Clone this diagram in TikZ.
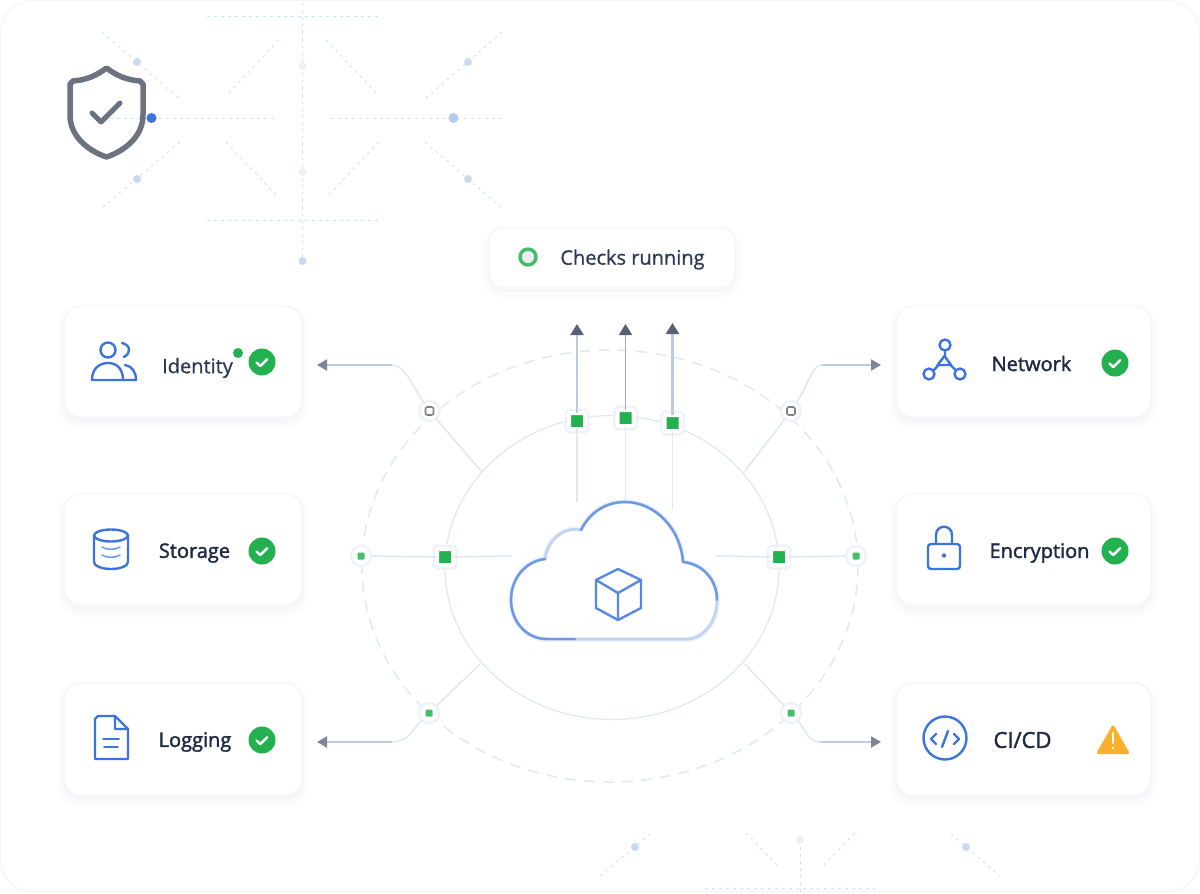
\documentclass[tikz,border=0pt]{standalone}
\usepackage{fontspec}
\setmainfont[FakeBold=0.8]{Open Sans}
\newfontfamily\cardfont[FakeBold=1.8]{Open Sans}
\usetikzlibrary{arrows.meta}
\definecolor{iconblue}{HTML}{3B74DC}
\definecolor{cloudblue}{HTML}{6C98E4}
\definecolor{cloudpale}{HTML}{C3D4F2}
\definecolor{okgreen}{HTML}{23B04E}
\definecolor{inkblue}{HTML}{1F2A44}
\definecolor{inkpale}{HTML}{2E3954}
\definecolor{slate}{HTML}{6B7280}
\definecolor{tipgray}{HTML}{5A6072}
\definecolor{tipsoft}{HTML}{7D8598}
\definecolor{dashblue}{HTML}{CEDEF4}
\definecolor{dotblue}{HTML}{CBD8EE}
\definecolor{dotpale}{HTML}{EEF1F4}
\definecolor{ringblue}{HTML}{E2E8F2}
\definecolor{wireblue}{HTML}{E0E7F2}
\definecolor{armblue}{HTML}{BCCAE4}
\definecolor{haloblue}{HTML}{EFF2F8}
\definecolor{cardedge}{HTML}{F3F5F8}
\definecolor{warnorange}{HTML}{FBB02D}

\begin{document}
\begin{tikzpicture}[x=1pt,y=-1pt,
every node/.style={inner sep=0pt, outer sep=0pt},
card/.style={rectangle, rounded corners=17, fill=white, draw=cardedge, line width=1,
   preaction={draw=slate, line width=14, opacity=0.006, transform canvas={yshift=-5pt}},
   preaction={draw=slate, line width=9, opacity=0.010, transform canvas={yshift=-5pt}},
   preaction={draw=slate, line width=5, opacity=0.012, transform canvas={yshift=-4pt}},
   preaction={draw=slate, line width=2, opacity=0.016, transform canvas={yshift=-3pt}}},
lbl/.style={font=\cardfont\fontsize{20}{24}\selectfont, text=inkblue},
lblthin/.style={font=\fontsize{20}{24}\selectfont, text=inkpale},
ok/.style={circle, fill=okgreen, minimum size=27,
   path picture={\draw[white, line width=2.4, line cap=round, line join=round]
      ([shift={(-5.5,0.5)}]path picture bounding box.center) -- ++(3.8,3.6) -- ++(7,-7);}},
sq/.style={rectangle, rounded corners=1, fill=okgreen, minimum size=16, draw=white, line width=4,
   preaction={draw=haloblue, line width=9}},
hub/.style={circle, fill=white, draw=haloblue, line width=2.5, minimum size=20},
hubg/.style={hub, path picture={\fill[okgreen!85, rounded corners=1]
      ([shift={(-3.5,-3.5)}]path picture bounding box.center) rectangle ++(7,7);}},
hubr/.style={hub, path picture={\draw[slate!90, line width=1.6, rounded corners=2]
      ([shift={(-4,-4)}]path picture bounding box.center) rectangle ++(8,8);}},
bigdot/.style={circle, fill=dotblue, minimum size=8},
paledot/.style={circle, fill=dotpale, minimum size=8},
backdash/.style={dashed, dash pattern=on 3pt off 4pt, draw=dashblue, line width=0.8},
wire/.style={draw=wireblue, line width=1.5},
arm/.style={draw=armblue, line width=2.4, -{Triangle[length=11pt,width=13pt,color=tipgray]}},
sidearm/.style={draw=armblue, line width=2, -{Triangle[length=10pt,width=11pt,color=tipsoft]}},
icon/.style={draw=iconblue, line width=2.4, line join=round, line cap=round}]

\useasboundingbox (0,0) rectangle (1200,894);
\draw[draw=cardedge, fill=white, line width=1.2, rounded corners=32] (0.5,0.5) rectangle (1199.5,892);

\draw[backdash] (207,16) -- (380,16);
\draw[backdash] (207,220) -- (380,220);
\draw[backdash] (302.5,3) -- (302.5,258);
\draw[backdash] (110,118) -- (278,118);
\draw[backdash] (331,118) -- (504,118);
\draw[backdash] (102,32) -- (180,99);
\draw[backdash] (279,40) -- (226,96);
\draw[backdash] (326,40) -- (379,96);
\draw[backdash] (502,32) -- (425,99);
\draw[backdash] (180,142) -- (102,208);
\draw[backdash] (226,142) -- (279,198);
\draw[backdash] (379,142) -- (326,198);
\draw[backdash] (425,142) -- (502,208);
\draw[backdash] (600,876) -- (650,834);
\draw[backdash] (746,833) -- (777,865);
\draw[backdash] (855,833) -- (824,865);
\draw[backdash] (800,840) -- (800,892);
\draw[backdash] (705,888) -- (878,888);
\draw[backdash] (951,834) -- (1000,876);

\node[bigdot] (d1) at (137,62) {};
\node[bigdot] (d2) at (137,179) {};
\node[bigdot] (d3) at (468,62) {};
\node[bigdot] (d4) at (468,179) {};
\node[paledot] (d5) at (302.5,66) {};
\node[paledot] (d6) at (302.5,172) {};
\node[bigdot] (d7) at (302.5,261) {};
\node[circle, fill=dotblue!85!iconblue, minimum size=10] (d8) at (453.5,118) {};
\node[circle, fill=iconblue, minimum size=10] (d9) at (151.5,118) {};
\node[bigdot] (d10) at (635,847) {};
\node[paledot] (d11) at (800,840) {};
\node[bigdot] (d12) at (966,847) {};

\draw[draw=slate, line width=5.5, line join=round]
   (106.5,68) .. controls (96,76) and (86,80) .. (73,81) -- (70,84) -- (70,115)
   .. controls (70,135) and (86,150) .. (106.5,157) .. controls (127,150) and (143,135) .. (143,115)
   -- (143,84) -- (140,81) .. controls (127,80) and (117,76) .. (106.5,68) -- cycle;
\draw[draw=slate, line width=5, line cap=round, line join=round] (92,113) -- (101,122) -- (120,103);

\draw[draw=ringblue, line width=1.5, dashed, dash pattern=on 11pt off 8pt] (610,566) ellipse [x radius=248, y radius=216];
\draw[draw=ringblue, line width=1.3] (612,567.5) ellipse [x radius=167, y radius=152];

\node[card, minimum width=246, minimum height=59, rounded corners=14] (chk) at (612,257.5) {};
\node[circle, fill=dotpale!70!ringblue, draw=okgreen!85, line width=3.4, minimum size=16] (chkd) at (528,257) {};
\node[lblthin] (chkt) at (632.5,259.5) {Checks running};

\node[card, minimum width=238, minimum height=111] (iden) at (183,361.5) {};
\node[card, minimum width=238, minimum height=111] (stor) at (183,549.5) {};
\node[card, minimum width=238, minimum height=112] (logg) at (183,739) {};
\node[card, minimum width=255, minimum height=111] (netw) at (1023.5,361.5) {};
\node[card, minimum width=255, minimum height=111] (encr) at (1023.5,549.5) {};
\node[card, minimum width=255, minimum height=112] (cicd) at (1023.5,739) {};

\node[lblthin] (identxt) at (197.5,368) {Identity};
\node[lbl] (stortxt) at (194.5,553) {Storage};
\node[lbl] (loggtxt) at (195,742) {Logging};
\node[lbl] (netwtxt) at (1031.5,363.5) {Network};
\node[lbl] (encrtxt) at (1039.5,553) {Encryption};
\node[lbl, font=\cardfont\fontsize{22}{26}\selectfont] (cicdtxt) at (1022.5,740) {CI/CD};

\node[ok] (idenok) at (262,362) {};
\node[ok] (storok) at (262,551) {};
\node[ok] (loggok) at (262,740) {};
\node[ok] (netwok) at (1115,363) {};
\node[ok] (encrok) at (1115,551) {};
\node[circle, fill=okgreen, minimum size=10] (idendot) at (238,353) {};

\draw[icon] (108,350) circle [radius=7.5];
\draw[icon] (122,343) .. controls (127,344) and (129,347) .. (129,350) .. controls (129,353) and (127,356) .. (124,357);
\draw[icon] (92,380) .. controls (92,369) and (99,363) .. (108,363) .. controls (117,363) and (123,369) .. (123,380);
\draw[icon] (125,365) .. controls (132,366) and (136,372) .. (136,380) -- (92,380);

\draw[icon] (111,535.5) ellipse [x radius=17, y radius=6];
\draw[icon] (94,535.5) -- (94,562) .. controls (94,566) and (102,569) .. (111,569) .. controls (120,569) and (128,566) .. (128,562) -- (128,535.5);
\draw[icon, draw=iconblue!70, line width=1.6] (102,547) .. controls (106,550) and (116,550) .. (120,547);
\draw[icon, draw=iconblue!70, line width=1.6] (102,555) .. controls (106,558) and (116,558) .. (120,555);

\draw[icon] (115,716) -- (98,716) -- (95,719) -- (95,759) -- (128,759) -- (128,729) -- (115,716) -- (115,729) -- (128,729);
\draw[icon, line width=1.8] (103,739) -- (119,739);
\draw[icon, line width=1.8] (104,747) -- (118,747);

\draw[icon] (945,345) circle [radius=5.5];
\draw[icon] (929,374) circle [radius=5.5];
\draw[icon] (960,374) circle [radius=5.5];
\draw[icon] (945,350.5) -- (945,356) (934,370) -- (938.5,365) (955.5,370) -- (950.5,365);
\draw[icon] (944.5,356) -- (937.5,365) -- (951,365) -- cycle;

\draw[icon, rounded corners=3] (928,544) rectangle (960,569);
\draw[icon] (936,544) -- (936,535) .. controls (936,524) and (952,524) .. (952,535) -- (952,544);
\fill[iconblue] (944,555.5) circle [radius=2.2];

\draw[icon] (945,738) circle [radius=21.5];
\draw[icon] (936,734) -- (931,739) -- (936,744);
\draw[icon] (942,747) -- (948,731);
\draw[icon] (954,734) -- (959,739) -- (954,744);

\fill[warnorange, draw=warnorange, line width=3, line join=round] (1113,727) -- (1098.5,752.5) -- (1127.5,752.5) -- cycle;
\draw[white, line width=2.2, line cap=round] (1113,733) -- (1113,743);
\fill[white] (1113,748) circle [radius=1.4];

\node[sq] (up1) at (577,421) {};
\node[sq] (up2) at (625.5,418) {};
\node[sq] (up3) at (672.5,423) {};
\node[sq] (left) at (445,557) {};
\node[sq] (right) at (779,557) {};

\node[hubr] (hubnw) at (429.5,411) {};
\node[hubr] (hubne) at (791,411) {};
\node[hubg] (hubw) at (361,556) {};
\node[hubg] (hube) at (856,556) {};
\node[hubg] (hubsw) at (429,713) {};
\node[hubg] (hubse) at (791,713) {};

\coordinate (top1) at (577,324);
\coordinate (top2) at (625.5,324);
\coordinate (top3) at (672.5,323);
\coordinate (in1) at (577,502);
\coordinate (in2) at (625.5,502);
\coordinate (in3) at (672.5,510);
\coordinate (inl) at (512,556);
\coordinate (inr) at (716,556);
\coordinate (ringnw) at (481,471);
\coordinate (ringne) at (745,471);
\coordinate (ringsw) at (480,664);
\coordinate (ringse) at (745,664);
\coordinate (bendnw) at (392,365);
\coordinate (bendne) at (822,365);
\coordinate (bendsw) at (392,742);
\coordinate (bendse) at (820,742);
\coordinate (tipnw) at (317,365);
\coordinate (tipne) at (881,365);
\coordinate (tipsw) at (317,742);
\coordinate (tipse) at (881,742);

\draw[arm] (up1) -- (top1);
\draw[arm, draw=slate!60, line width=1.8] (up2) -- (top2);
\draw[arm] (up3) -- (top3);
\draw[wire] (up1) -- (in1);
\draw[wire] (up2) -- (in2);
\draw[wire] (up3) -- (in3);
\draw[wire] (left) -- (inl);
\draw[wire] (right) -- (inr);
\draw[wire] (hubw) -- (left);
\draw[wire] (hube) -- (right);
\draw[wire] (hubnw) -- (ringnw);
\draw[wire] (hubne) -- (ringne);
\draw[wire] (hubsw) -- (ringsw);
\draw[wire] (hubse) -- (ringse);

\draw[wire] (hubnw) .. controls (412,385) and (405,365) .. (bendnw);
\draw[wire] (hubne) .. controls (808,385) and (812,365) .. (bendne);
\draw[wire] (hubsw) .. controls (412,730) and (408,742) .. (bendsw);
\draw[wire] (hubse) .. controls (806,730) and (808,742) .. (bendse);
\draw[sidearm] (bendnw) -- (tipnw);
\draw[sidearm] (bendne) -- (tipne);
\draw[sidearm] (bendsw) -- (tipsw);
\draw[sidearm] (bendse) -- (tipse);

\draw[draw=cloudpale, fill=white, line width=3, line join=round,
   preaction={draw=cloudpale, line width=6, opacity=0.25}]
   (547,639) .. controls (525,639) and (511,620) .. (511,600) .. controls (511,578) and (526,561) .. (545,559)
   .. controls (547,542) and (562,526) .. (581,530) .. controls (590,512) and (606,502) .. (625,502)
   .. controls (656,502) and (681,530) .. (683,562) .. controls (703,564) and (717,580) .. (717,600)
   .. controls (717,622) and (703,639) .. (687,639) -- cycle;
\draw[draw=cloudblue, line width=2.4, line cap=round, line join=round]
   (575,639) -- (547,639) .. controls (525,639) and (511,620) .. (511,600) .. controls (511,578) and (526,561) .. (545,559);
\draw[draw=cloudblue, line width=2.4, line cap=round, line join=round]
   (581,530) .. controls (590,512) and (606,502) .. (625,502)
   .. controls (656,502) and (681,530) .. (683,562) .. controls (703,564) and (717,580) .. (717,600);

\draw[draw=iconblue!85, line width=2.4, line join=round]
   (618,569) -- (596,580) -- (618,593) -- (641,580) -- cycle
   (596,580) -- (596,608) -- (618,620) -- (641,608) -- (641,580)
   (618,593) -- (618,620);
\end{tikzpicture}
\end{document}
